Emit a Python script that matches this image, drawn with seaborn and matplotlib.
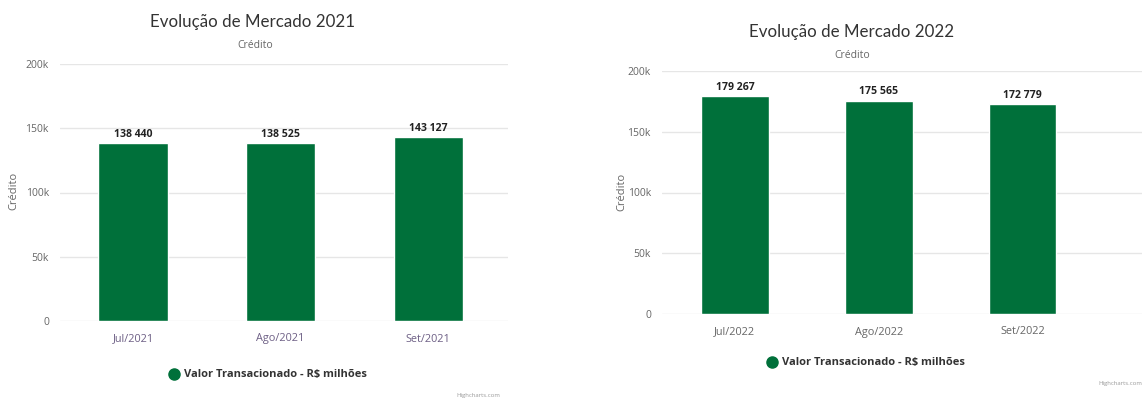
import matplotlib
matplotlib.use("Agg")
import matplotlib.pyplot as plt
from matplotlib.lines import Line2D
import seaborn as sns
import pandas as pd

# Monthly credit volume (R$ millions)
months_2021 = ["Jul/2021", "Ago/2021", "Set/2021"]
values_2021 = [138440, 138525, 143127]
months_2022 = ["Jul/2022", "Ago/2022", "Set/2022"]
values_2022 = [179267, 175565, 172779]
y_ticks = [0, 50000, 100000, 150000, 200000]
y_tick_labels = ["0", "50k", "100k", "150k", "200k"]

GREEN = "#00703a"
sns.set_theme(style="white")
plt.rcParams["font.family"] = ["Open Sans", "DejaVu Sans"]

W, H = 1142, 399
fig = plt.figure(figsize=(W / 100, H / 100), dpi=100)


def fx(px):
    return px / W


def fy(py):
    return 1 - py / H


def fmt(v):
    return f"{v:,}".replace(",", " ")


def panel(rect, months, values, xlim, tick_color, title, title_xy, sub_xy,
          ylabel_xy, legend_xy, credit_xy):
    ax = fig.add_axes(rect)
    df = pd.DataFrame({"mes": months, "valor": values})
    sns.barplot(data=df, x="mes", y="valor", color=GREEN, width=0.47,
                saturation=1, ax=ax, zorder=3)
    ax.set_ylim(0, 200000)
    ax.set_xlim(*xlim)
    ax.set_yticks(y_ticks)
    ax.set_yticklabels(y_tick_labels)
    ax.grid(axis="y", color="#e6e6e6", linewidth=1, zorder=0)
    ax.set_axisbelow(True)
    for s in ax.spines.values():
        s.set_visible(False)
    ax.tick_params(axis="y", length=0, pad=8, labelsize=7.5, labelcolor="#666666")
    ax.tick_params(axis="x", length=0, pad=9, labelsize=7.8, labelcolor=tick_color)
    ax.set_xlabel("")
    ax.set_ylabel("")
    for i, v in enumerate(values):
        ax.annotate(fmt(v), (i, v), xytext=(0, 2.5), textcoords="offset points",
                    ha="center", va="bottom", fontsize=7.6, fontweight="bold",
                    color="#222222")
    fig.text(fx(title_xy[0]), fy(title_xy[1]), title, ha="center", va="center",
             fontsize=12.2, color="#333333", family=["Lato", "DejaVu Sans"])
    fig.text(fx(sub_xy[0]), fy(sub_xy[1]), "Crédito", ha="center", va="center",
             fontsize=7.5, color="#666666")
    fig.text(fx(ylabel_xy[0]), fy(ylabel_xy[1]), "Crédito", ha="center",
             va="center", rotation=90, fontsize=8, color="#666666")
    handle = Line2D([], [], marker="o", linestyle="", markersize=8,
                    markerfacecolor=GREEN, markeredgecolor=GREEN)
    fig.legend([handle], ["Valor Transacionado - R\\$ milhões"],
               loc="center", bbox_to_anchor=(fx(legend_xy[0]), fy(legend_xy[1])),
               frameon=False, handletextpad=0.4, handlelength=1.0,
               prop={"size": 8, "weight": "bold"}, labelcolor="#333333")
    fig.text(fx(credit_xy[0]), fy(credit_xy[1]), "Highcharts.com", ha="right",
             va="center", fontsize=4.3, color="#999999")
    return ax


panel([fx(60), fy(321), fx(508 - 60), fy(64) - fy(321)],
      months_2021, values_2021, (-0.495, 2.54), "#6d5f85",
      "Evolução de Mercado 2021", (253, 22), (255, 45), (14, 191),
      (268, 375), (500, 396))

panel([fx(662), fy(314), fx(1142 - 662), fy(71) - fy(314)],
      months_2022, values_2022, (-0.507, 2.83), "#666666",
      "Evolução de Mercado 2022", (852, 32), (852, 55), (622, 192),
      (866, 363), (1142, 383))

fig.savefig("out.png", dpi=100, facecolor="white")
